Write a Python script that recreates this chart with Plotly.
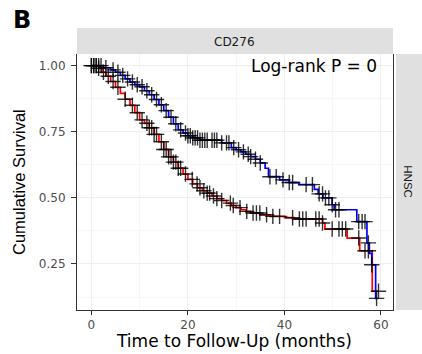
import numpy as np
import plotly.graph_objects as go

# ---- data ----
blue_time = [0, 2.5, 4, 5, 6, 7, 8, 9, 10, 11, 12, 13, 14, 15, 16, 17, 18, 19, 20, 21, 22.5, 27, 29, 30, 31, 32, 33, 34, 35, 36, 36.7, 39, 41, 43, 46.2, 47, 48, 49.9, 50.3, 55, 57.1, 57.6, 58.1, 58.9, 59.3]
blue_surv = [1.0, 0.992, 0.984, 0.975, 0.963, 0.95, 0.938, 0.928, 0.92, 0.905, 0.89, 0.872, 0.852, 0.83, 0.805, 0.78, 0.757, 0.745, 0.735, 0.727, 0.718, 0.708, 0.69, 0.682, 0.674, 0.665, 0.656, 0.646, 0.632, 0.612, 0.58, 0.568, 0.558, 0.55, 0.532, 0.515, 0.5, 0.474, 0.455, 0.41, 0.33, 0.29, 0.247, 0.12, 0.12]

red_time = [0, 1.5, 2.2, 3, 4, 5, 6, 7, 8, 9, 10, 11, 12, 13, 14, 15, 16, 17, 18, 19, 20, 21, 22, 23, 24, 25, 26, 27, 28, 29, 30, 31, 32, 33, 35, 37, 40, 42, 47.9, 48.4, 53, 55.6, 58.2, 59.6]
red_surv = [1.0, 0.99, 0.975, 0.96, 0.94, 0.918, 0.895, 0.873, 0.85, 0.822, 0.795, 0.782, 0.765, 0.74, 0.712, 0.683, 0.655, 0.635, 0.612, 0.59, 0.57, 0.553, 0.538, 0.527, 0.518, 0.507, 0.497, 0.49, 0.48, 0.471, 0.463, 0.455, 0.449, 0.443, 0.436, 0.43, 0.425, 0.42, 0.405, 0.382, 0.348, 0.30, 0.147, 0.147]

blue_censor = [0, 0.5, 1, 1.5, 2, 3, 4.5, 5.5, 6.5, 7.5, 8.5, 9.5, 10.5, 11.5, 12.5, 13.5, 14.5, 15.5, 16.5, 17.5, 18.5, 19.5, 20, 20.5, 21, 21.5, 22, 22.5, 23, 23.5, 24, 25, 25.5, 26, 27, 28, 28.5, 29.5, 30.5, 31.5, 32.5, 33, 34, 35, 37, 38.3, 39.7, 41, 41.7, 44.5, 45.8, 47.2, 47.9, 48.5, 49.2, 49.9, 50.6, 51.3, 55.4, 56.1, 56.7, 57.4, 58.1, 59.1]
red_censor = [0, 0.5, 1, 1.5, 2.5, 3.5, 4.5, 5.5, 7, 8.5, 9.5, 10.5, 11.5, 12, 12.5, 13, 13.5, 14.5, 15, 15.5, 16, 16.5, 17, 17.5, 18, 18.5, 19.5, 20.9, 21.9, 22.5, 23.3, 24, 24.5, 25.3, 26, 27, 28.8, 29.4, 30.8, 32.2, 33.5, 34.2, 34.9, 36.3, 37.6, 39, 41.7, 43.1, 43.8, 44.5, 46.5, 47.2, 47.9, 49.9, 51.3, 52, 52.7, 55.4, 56.7, 57.4, 59.5]

x_ticks = [0, 20, 40, 60]
y_ticks = [0.25, 0.50, 0.75, 1.00]
y_tick_labels = ["0.25", "0.50", "0.75", "1.00"]


def step_at(times, survs, t):
    idx = np.searchsorted(np.asarray(times), t, side="right") - 1
    return np.asarray(survs)[np.clip(idx, 0, len(survs) - 1)]


WIDE = "DejaVu Sans"
NARROW = "Liberation Sans, Arial"

fig = go.Figure()
fig.add_trace(go.Scatter(x=red_time, y=red_surv, mode="lines", line=dict(color="#FF0000", width=1.7, shape="hv"), showlegend=False))
fig.add_trace(go.Scatter(x=blue_time, y=blue_surv, mode="lines", line=dict(color="#0000FF", width=1.7, shape="hv"), showlegend=False))
for ct, tt, ss in [(red_censor, red_time, red_surv), (blue_censor, blue_time, blue_surv)]:
    fig.add_trace(go.Scatter(
        x=ct, y=step_at(tt, ss, ct), mode="markers",
        marker=dict(symbol="cross-thin", size=11, line=dict(color="rgba(0,0,0,0.8)", width=1.4)),
        showlegend=False))

grid = "#EFEFEF"
fig.update_xaxes(range=[-2.98, 62.5], tickvals=x_ticks, ticks="outside", ticklen=4, tickcolor="#333333",
                 showline=True, linecolor="#333333", linewidth=1.1, mirror=False,
                 showgrid=True, gridcolor=grid, gridwidth=1, zeroline=False,
                 minor=dict(tickvals=[10, 30, 50], showgrid=True, gridcolor="#F6F6F6", gridwidth=0.8),
                 tickfont=dict(family=WIDE, size=12, color="#4D4D4D"))
fig.update_yaxes(range=[0.076, 1.044], tickvals=y_ticks, ticktext=y_tick_labels, ticks="outside", ticklen=5, tickcolor="#333333",
                 showline=True, linecolor="#333333", linewidth=1.1, mirror=True,
                 showgrid=True, gridcolor=grid, gridwidth=1, zeroline=False, ticklabelstandoff=3,
                 minor=dict(tickvals=[0.125, 0.375, 0.625, 0.875], showgrid=True, gridcolor="#F6F6F6", gridwidth=0.8),
                 tickfont=dict(family=WIDE, size=12, color="#4D4D4D"))

strip = "#E0E0E0"
fig.add_shape(type="rect", xref="paper", yref="paper", x0=0, x1=1, y0=1.0, y1=1.1016, fillcolor=strip, line=dict(width=0), layer="below")
fig.add_shape(type="rect", xref="paper", yref="paper", x0=1.0095, x1=1.2, y0=0, y1=1.0, fillcolor=strip, line=dict(width=0), layer="below")

fig.add_annotation(xref="paper", yref="paper", x=0.497, y=1.048, text="CD276", showarrow=False,
                   font=dict(family=WIDE, size=12, color="#1A1A1A"), xanchor="center", yanchor="middle")
fig.add_annotation(xref="paper", yref="paper", x=1.0466, y=0.5, text="HNSC", showarrow=False, textangle=90,
                   font=dict(family=NARROW, size=11.5, color="#1A1A1A"), xanchor="center", yanchor="middle")
fig.add_annotation(xref="paper", yref="paper", x=0.957, y=0.952, text="Log-rank P = 0", showarrow=False,
                   font=dict(family=WIDE, size=17, color="#000000"), xanchor="right", yanchor="middle")
fig.add_annotation(xref="paper", yref="paper", x=-0.174, y=1.131, text="<b>B</b>", showarrow=False,
                   font=dict(family=WIDE, size=24, color="#000000"), xanchor="center", yanchor="middle")
# axis titles
fig.add_annotation(xref="paper", yref="paper", x=0.497, y=-0.12, text="Time to Follow-Up (months)", showarrow=False,
                   font=dict(family=WIDE, size=17, color="#000000"), xanchor="center", yanchor="middle")
fig.add_annotation(xref="paper", yref="paper", x=-0.1835, y=0.5, text="Cumulative Survival", showarrow=False, textangle=-90,
                   font=dict(family=NARROW, size=16.5, color="#000000"), xanchor="center", yanchor="middle")

fig.update_layout(width=422, height=354, margin=dict(l=77, r=29, t=54, b=44),
                  paper_bgcolor="white", plot_bgcolor="white")

fig.write_html("out.html")
